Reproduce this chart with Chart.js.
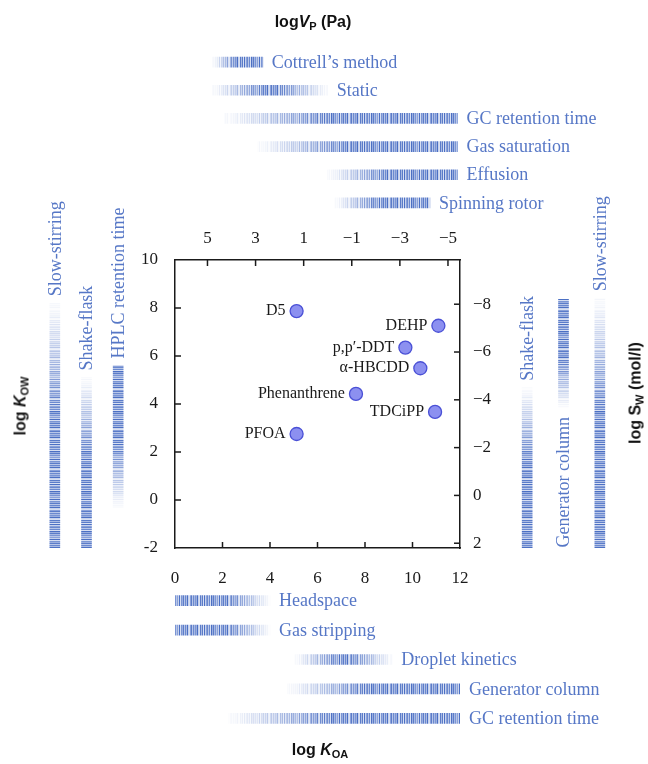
<!doctype html>
<html lang="en">
<head>
  <meta charset="UTF-8">
  <title>Measurement methods vs. partitioning space</title>
  <script src="https://cdn.jsdelivr.net/npm/chart.js@4.4.0/dist/chart.umd.min.js"></script>
  <style>
      body { margin: 0; background: #fff; }
      .stage { position: relative; width: 648px; height: 764px; }
      .stage canvas { position: absolute; left: 0; top: 0; }
      .ttl {
          position: absolute; white-space: nowrap;
          font: bold 16px "Liberation Sans", Arial, sans-serif; color: #111;
          transform: translate(-50%, -50%);
      }
      .ttl sub { font-size: 11px; vertical-align: -3px; }
      .ttl.rot { transform: translate(-50%, -50%) rotate(-90deg); }
  </style>
</head>
<body>

<div class="stage">
  <canvas id="topBars" width="648" height="764"></canvas>
  <canvas id="bottomBars" width="648" height="764"></canvas>
  <canvas id="leftBars" width="648" height="764"></canvas>
  <canvas id="rightBars" width="648" height="764"></canvas>
  <canvas id="main" width="648" height="764"></canvas>
  <div class="ttl" style="left:313px;top:22px">log<i>V</i><sub>P</sub> (Pa)</div>
  <div class="ttl" style="left:320px;top:750px">log <i>K</i><sub>OA</sub></div>
  <div class="ttl rot" style="left:21px;top:406px">log <i>K</i><sub>OW</sub></div>
  <div class="ttl rot" style="left:636px;top:393px">log S<sub>W</sub> (mol/l)</div>
</div>

<script>
  // compounds (x = log KOA, y = log KOW)
  const compounds = ['D5', 'DEHP', 'p,p′-DDT', 'α-HBCDD', 'Phenanthrene', 'TDCiPP', 'PFOA']
  const logKOA = [5.12, 11.09, 9.70, 10.33, 7.62, 10.95, 5.12]
  const logKOW = [7.87, 7.26, 6.35, 5.49, 4.42, 3.67, 2.75]

  // axis ranges / ticks
  const KOA_MIN = 0, KOA_MAX = 12
  const KOW_MIN = -2, KOW_MAX = 10
  const VP_MIN = -5.5, VP_MAX = 6.35
  const SW_MIN = -9.85, SW_MAX = 2.2
  const vpTicks = [5, 3, 1, -1, -3, -5]
  const swTicks = [-8, -6, -4, -2, 0, 2]

  // method ranges
  const vpMethods = ['Cottrell’s method', 'Static', 'GC retention time', 'Gas saturation', 'Effusion', 'Spinning rotor']
  const vpRanges = [[2.7, 4.8], [0, 4.8], [-5.4, 4.3], [-5.4, 2.9], [-5.4, 0], [-4.25, -0.3]]

  const koaMethods = ['Headspace', 'Gas stripping', 'Droplet kinetics', 'Generator column', 'GC retention time']
  const koaRanges = [[0, 4], [0, 4], [5.05, 9.15], [4.75, 12], [2.25, 12]]

  const kowMethods = ['Slow-stirring', 'Shake-flask', 'HPLC retention time']
  const kowRanges = [[-2, 8.2], [-2, 5.1], [-0.3, 5.6]]

  const swMethods = ['Shake-flask', 'Generator column', 'Slow-stirring']
  const swRanges = [[-4.5, 2.2], [-8.2, -3.7], [-8.25, 2.2]]

  // which pixel end of each bar fades out ('lo' = left/top, 'hi' = right/bottom)
  const vpFade = ['lo', 'lo hi', 'lo', 'lo', 'lo', 'lo']
  const koaFade = ['hi', 'hi', 'lo hi', 'lo', 'lo']
  const kowFade = ['lo', 'lo', 'hi']
  const swFade = ['lo', 'hi', 'lo']
  const swLabelSide = ['top', 'bottom', 'top']

  const SERIF = '"Liberation Serif", "DejaVu Serif", serif'
  const METHOD_BLUE = '#5677c6'
  const INK = '#1a1a1a'
  Chart.defaults.font.family = SERIF

  // barcode-like stripes, fixed sequence
  const STRIPES = '8380915727094836251906482739105827364910'.split('').map(Number)

  function stripeFill(chart, horizontal, p0, p1, fade) {
    const len = horizontal ? chart.width : chart.height
    const c = document.createElement('canvas')
    c.width = horizontal ? len : 1
    c.height = horizontal ? 1 : len
    const g = c.getContext('2d')
    const lo = Math.min(p0, p1), hi = Math.max(p0, p1)
    for (let i = Math.floor(lo); i <= Math.ceil(hi); i++) {
      const t = (i - lo) / (hi - lo)
      let f = 1
      if (fade.includes('lo')) f = Math.min(f, t / 0.45)
      if (fade.includes('hi')) f = Math.min(f, (1 - t) / 0.45)
      f = Math.max(0.06, Math.min(1, f))
      const s = STRIPES[i % STRIPES.length] / 9
      g.fillStyle = `rgba(56,96,190,${((0.2 + 0.7 * s) * f).toFixed(3)})`
      if (horizontal) g.fillRect(i, 0, 1, 1)
      else g.fillRect(0, i, 1, 1)
    }
    return chart.ctx.createPattern(c, 'repeat')
  }

  function barFill(horizontal, fades) {
    return (ctx) => {
      if (ctx.type !== 'data') return 'transparent'
      const ch = ctx.chart
      const sc = horizontal ? ch.scales.x : ch.scales.y
      const a = sc.getPixelForValue(ctx.raw[0]), b = sc.getPixelForValue(ctx.raw[1])
      if (!isFinite(a) || !isFinite(b)) return 'rgba(56,96,190,0.6)'
      return stripeFill(ch, horizontal, a, b, fades[ctx.dataIndex])
    }
  }

  function methodLabels(names, horizontal, sides) {
    return {
      id: 'methodLabels',
      afterDatasetsDraw(chart) {
        const ctx = chart.ctx
        ctx.save()
        ctx.font = '18px ' + SERIF
        ctx.fillStyle = METHOD_BLUE
        ctx.textBaseline = 'middle'
        chart.getDatasetMeta(0).data.forEach((el, i) => {
          if (horizontal) {
            ctx.textAlign = 'left'
            ctx.fillText(names[i], Math.max(el.x, el.base) + 9, el.y + 1)
          } else {
            const side = sides ? sides[i] : 'top'
            ctx.save()
            if (side === 'top') {
              ctx.translate(el.x, Math.min(el.y, el.base) - 7)
              ctx.rotate(-Math.PI / 2)
              ctx.textAlign = 'left'
            } else {
              ctx.translate(el.x, Math.max(el.y, el.base) + 10)
              ctx.rotate(-Math.PI / 2)
              ctx.textAlign = 'right'
            }
            ctx.fillText(names[i], 0, 1)
            ctx.restore()
          }
        })
        ctx.restore()
      }
    }
  }

  function methodChart(id, opts) {
    const horizontal = opts.horizontal
    const valueScale = { display: false, min: opts.min, max: opts.max, reverse: !!opts.reverse }
    const indexScale = { display: false }
    return new Chart(document.getElementById(id), {
      type: 'bar',
      data: {
        labels: opts.names,
        datasets: [{
          data: opts.ranges,
          backgroundColor: barFill(horizontal, opts.fades),
          borderWidth: 0,
          barThickness: 10
        }]
      },
      options: {
        indexAxis: horizontal ? 'y' : 'x',
        responsive: false,
        animation: false,
        devicePixelRatio: 1,
        layout: { padding: opts.padding },
        scales: horizontal ? { x: valueScale, y: indexScale } : { x: indexScale, y: valueScale },
        plugins: { legend: { display: false }, tooltip: { enabled: false } }
      },
      plugins: [methodLabels(opts.names, horizontal, opts.sides)]
    })
  }

  methodChart('topBars', {
    horizontal: true, names: vpMethods, ranges: vpRanges, fades: vpFade,
    min: VP_MIN, max: VP_MAX, reverse: true,
    padding: { left: 175, right: 188, top: 48, bottom: 547 }
  })
  methodChart('bottomBars', {
    horizontal: true, names: koaMethods, ranges: koaRanges, fades: koaFade,
    min: KOA_MIN, max: KOA_MAX,
    padding: { left: 175, right: 188, top: 586, bottom: 31 }
  })
  methodChart('leftBars', {
    horizontal: false, names: kowMethods, ranges: kowRanges, fades: kowFade,
    min: KOW_MIN, max: KOW_MAX,
    padding: { left: 39, right: 514, top: 260, bottom: 216 }
  })
  methodChart('rightBars', {
    horizontal: false, names: swMethods, ranges: swRanges, fades: swFade, sides: swLabelSide,
    min: SW_MIN, max: SW_MAX, reverse: true,
    padding: { left: 509, right: 30, top: 260, bottom: 216 }
  })

  // ticks pointing into the plot box
  const innerTicks = {
    id: 'innerTicks',
    afterDraw(chart) {
      const { ctx, chartArea: a } = chart
      const len = 6
      ctx.save()
      ctx.strokeStyle = INK
      ctx.lineWidth = 1.5
      const sides = [['x', 'bottom'], ['xTop', 'top'], ['y', 'left'], ['yRight', 'right']]
      for (const [id, side] of sides) {
        const sc = chart.scales[id]
        for (const t of sc.ticks) {
          const p = sc.getPixelForValue(t.value)
          ctx.beginPath()
          if (side === 'bottom' || side === 'top') {
            if (p < a.left + 2 || p > a.right - 2) continue
            const y0 = side === 'bottom' ? a.bottom : a.top
            ctx.moveTo(p, y0)
            ctx.lineTo(p, side === 'bottom' ? y0 - len : y0 + len)
          } else {
            if (p < a.top + 2 || p > a.bottom - 2) continue
            const x0 = side === 'left' ? a.left : a.right
            ctx.moveTo(x0, p)
            ctx.lineTo(side === 'left' ? x0 + len : x0 - len, p)
          }
          ctx.stroke()
        }
      }
      ctx.restore()
    }
  }

  const pointNames = {
    id: 'pointNames',
    afterDatasetsDraw(chart) {
      const ctx = chart.ctx
      ctx.save()
      ctx.font = '16px ' + SERIF
      ctx.fillStyle = INK
      ctx.textAlign = 'right'
      ctx.textBaseline = 'middle'
      chart.getDatasetMeta(0).data.forEach((pt, i) => {
        ctx.fillText(compounds[i], pt.x - 11, pt.y)
      })
      ctx.restore()
    }
  }

  const minus = (v) => (v < 0 ? '\u2212' + Math.abs(v) : String(v))
  const tickFont = { size: 17, family: SERIF }
  const frame = { color: INK, width: 1.5 }
  const noGrid = { display: false, drawTicks: false }

  new Chart(document.getElementById('main'), {
    type: 'scatter',
    data: {
      datasets: [{
        data: logKOA.map((x, i) => ({ x: x, y: logKOW[i] })),
        pointRadius: 6.5,
        pointBackgroundColor: '#8c90f0',
        pointBorderColor: '#4a50d6',
        pointBorderWidth: 1.3,
        xAxisID: 'x',
        yAxisID: 'y'
      }]
    },
    options: {
      responsive: false,
      animation: false,
      devicePixelRatio: 1,
      layout: { padding: { left: 135, right: 148, top: 230, bottom: 176 } },
      scales: {
        x: {
          type: 'linear', position: 'bottom', min: KOA_MIN, max: KOA_MAX,
          ticks: { stepSize: 2, padding: 20, font: tickFont, color: INK },
          grid: noGrid, border: frame,
          afterFit: (s) => { s.height = 40 }
        },
        xTop: {
          type: 'linear', position: 'top', min: VP_MIN, max: VP_MAX, reverse: true,
          afterBuildTicks: (s) => { s.ticks = vpTicks.map((v) => ({ value: v })) },
          ticks: { padding: 11, font: tickFont, color: INK, callback: minus },
          grid: noGrid, border: frame,
          afterFit: (s) => { s.height = 30 }
        },
        y: {
          type: 'linear', position: 'left', min: KOW_MIN, max: KOW_MAX,
          ticks: { stepSize: 2, padding: 17, font: tickFont, color: INK },
          grid: noGrid, border: frame,
          afterFit: (s) => { s.width = 40 }
        },
        yRight: {
          type: 'linear', position: 'right', min: SW_MIN, max: SW_MAX, reverse: true,
          afterBuildTicks: (s) => { s.ticks = swTicks.map((v) => ({ value: v })) },
          ticks: { padding: 13, font: tickFont, color: INK, callback: minus },
          grid: noGrid, border: frame,
          afterFit: (s) => { s.width = 40 }
        }
      },
      plugins: { legend: { display: false }, tooltip: { enabled: false } }
    },
    plugins: [innerTicks, pointNames]
  })
</script>

</body>
</html>
